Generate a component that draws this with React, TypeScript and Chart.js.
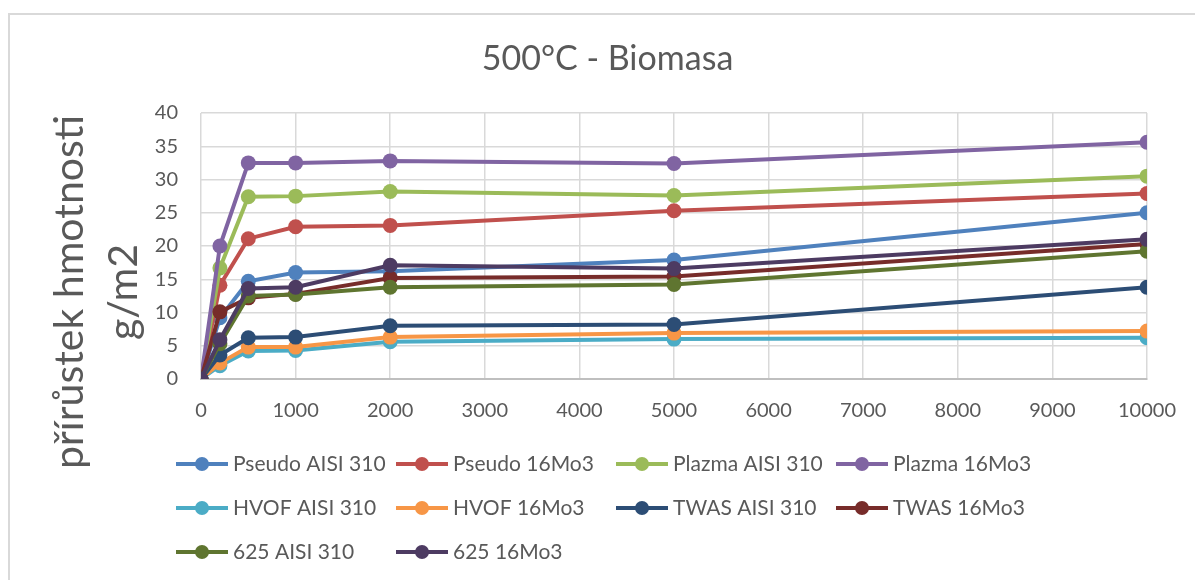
import React, { useEffect, useRef } from "react";
import { Chart, registerables } from "chart.js";

Chart.register(...registerables);

// ---- data ----
const hours = [0, 200, 500, 1000, 2000, 5000, 10000];
const seriesNames = [
  "Pseudo AISI 310",
  "Pseudo 16Mo3",
  "Plazma AISI 310",
  "Plazma 16Mo3",
  "HVOF AISI 310",
  "HVOF 16Mo3",
  "TWAS AISI 310",
  "TWAS 16Mo3",
  "625 AISI 310",
  "625 16Mo3",
];
const pseudoAisi310 = [0, 9.2, 14.7, 16.0, 16.2, 17.9, 25.0];
const pseudo16Mo3 = [0, 14.1, 21.1, 22.9, 23.1, 25.3, 27.9];
const plazmaAisi310 = [0, 16.7, 27.4, 27.5, 28.2, 27.6, 30.5];
const plazma16Mo3 = [0, 20.0, 32.5, 32.5, 32.8, 32.4, 35.6];
const hvofAisi310 = [0, 2.0, 4.2, 4.3, 5.6, 6.0, 6.2];
const hvof16Mo3 = [0, 2.4, 4.8, 4.8, 6.3, 6.9, 7.2];
const twasAisi310 = [0, 3.6, 6.2, 6.3, 8.0, 8.2, 13.8];
const twas16Mo3 = [0, 10.1, 12.2, 12.8, 15.2, 15.4, 20.3];
const a625Aisi310 = [0, 5.3, 12.5, 12.7, 13.8, 14.2, 19.2];
const a625_16Mo3 = [0, 5.9, 13.6, 13.8, 17.1, 16.6, 21.0];
const seriesValues = [
  pseudoAisi310,
  pseudo16Mo3,
  plazmaAisi310,
  plazma16Mo3,
  hvofAisi310,
  hvof16Mo3,
  twasAisi310,
  twas16Mo3,
  a625Aisi310,
  a625_16Mo3,
];
const seriesColors = [
  "#4F81BD",
  "#C0504D",
  "#9BBB59",
  "#8064A2",
  "#4BACC6",
  "#F79646",
  "#2C4D75",
  "#772C2A",
  "#5F7530",
  "#4D3B62",
];
const chartTitle = "500°C - Biomasa";
const yTitleLines = ["přírůstek hmotnosti", "g/m2"];

const FONT = "Lato";
const TEXT = "#595959";

const customPlugin = {
  id: "excelExtras",
  afterDraw(chart: any) {
    const ctx = chart.ctx as CanvasRenderingContext2D;
    ctx.save();
    // y-axis title (two lines, rotated)
    ctx.fillStyle = TEXT;
    ctx.font = `41px ${FONT}`;
    ctx.textAlign = "center";
    ctx.textBaseline = "alphabetic";
    ctx.translate(83, 292);
    ctx.rotate(-Math.PI / 2);
    ctx.fillText(yTitleLines[0], 0, 0);
    ctx.fillText(yTitleLines[1], 0, 54);
    ctx.restore();

    // legend grid
    ctx.save();
    chart.data.datasets.forEach((ds: any, i: number) => {
      const col = i % 4;
      const row = Math.floor(i / 4);
      const x0 = 176 + col * 220;
      const y = 464 + row * 44;
      ctx.strokeStyle = ds.borderColor;
      ctx.lineWidth = 4;
      ctx.lineCap = "butt";
      ctx.beginPath();
      ctx.moveTo(x0, y);
      ctx.lineTo(x0 + 52, y);
      ctx.stroke();
      ctx.fillStyle = ds.borderColor;
      ctx.beginPath();
      ctx.arc(x0 + 26, y, 7, 0, Math.PI * 2);
      ctx.fill();
      ctx.fillStyle = TEXT;
      ctx.font = `21px ${FONT}`;
      ctx.textAlign = "left";
      ctx.textBaseline = "middle";
      ctx.fillText(ds.label, x0 + 57, y);
    });
    ctx.restore();
  },
};

export default function App() {
  const ref = useRef<HTMLCanvasElement | null>(null);
  useEffect(() => {
    if (!ref.current) return;
    const n = seriesNames.length;
    const chart = new Chart(ref.current, {
      type: "line",
      data: {
        datasets: seriesNames.map((name, i) => ({
          label: name,
          data: hours.map((h, j) => ({ x: h, y: seriesValues[i][j] })),
          borderColor: seriesColors[i],
          backgroundColor: seriesColors[i],
          pointBackgroundColor: seriesColors[i],
          pointBorderColor: seriesColors[i],
          pointBorderWidth: 0,
          pointRadius: 7.5,
          borderWidth: 4,
          tension: 0,
          fill: false,
          order: n - i,
        })),
      },
      options: {
        responsive: false,
        animation: false,
        devicePixelRatio: 1,
        layout: { padding: { left: 20, right: 0, top: 0, bottom: 0 } },
        plugins: {
          legend: { display: false },
          tooltip: { enabled: false },
          title: {
            display: true,
            text: chartTitle,
            color: TEXT,
            font: { family: FONT, size: 34, weight: "normal", lineHeight: 1.2 },
            padding: { top: 59 - 20.4, bottom: 113 - 59 - 20.4 },
          },
        },
        scales: {
          x: {
            type: "linear",
            min: 0,
            max: 10000,
            ticks: {
              stepSize: 1000,
              color: TEXT,
              font: { family: FONT, size: 20 },
              padding: 20,
              maxRotation: 0,
              callback: (v: any) => String(v),
            },
            grid: { color: "#d9d9d9", lineWidth: 1.5, drawTicks: false },
            border: { display: true, color: "#bfbfbf", width: 2 },
            afterFit: (s: any) => {
              s.height = 201;
              s.paddingRight = 48;
            },
          },
          y: {
            min: 0,
            max: 40,
            ticks: {
              stepSize: 5,
              color: TEXT,
              font: { family: FONT, size: 20 },
              padding: 23,
            },
            grid: { color: "#d9d9d9", lineWidth: 1.5, drawTicks: false },
            border: { display: false },
            afterFit: (s: any) => {
              s.width = 181;
            },
          },
        },
      },
      plugins: [customPlugin],
    });
    return () => chart.destroy();
  }, []);

  return (
    <div
      style={{
        position: "fixed",
        left: 0,
        top: 0,
        width: 1195,
        height: 580,
        background: "#fff",
        overflow: "hidden",
      }}
    >
      <div
        style={{
          position: "absolute",
          left: 8,
          top: 13,
          width: 1300,
          height: 700,
          border: "2px solid #d9d9d9",
        }}
      />
      <canvas
        ref={ref}
        width={1195}
        height={580}
        style={{ position: "absolute", left: 0, top: 0, width: 1195, height: 580 }}
      />
    </div>
  );
}
